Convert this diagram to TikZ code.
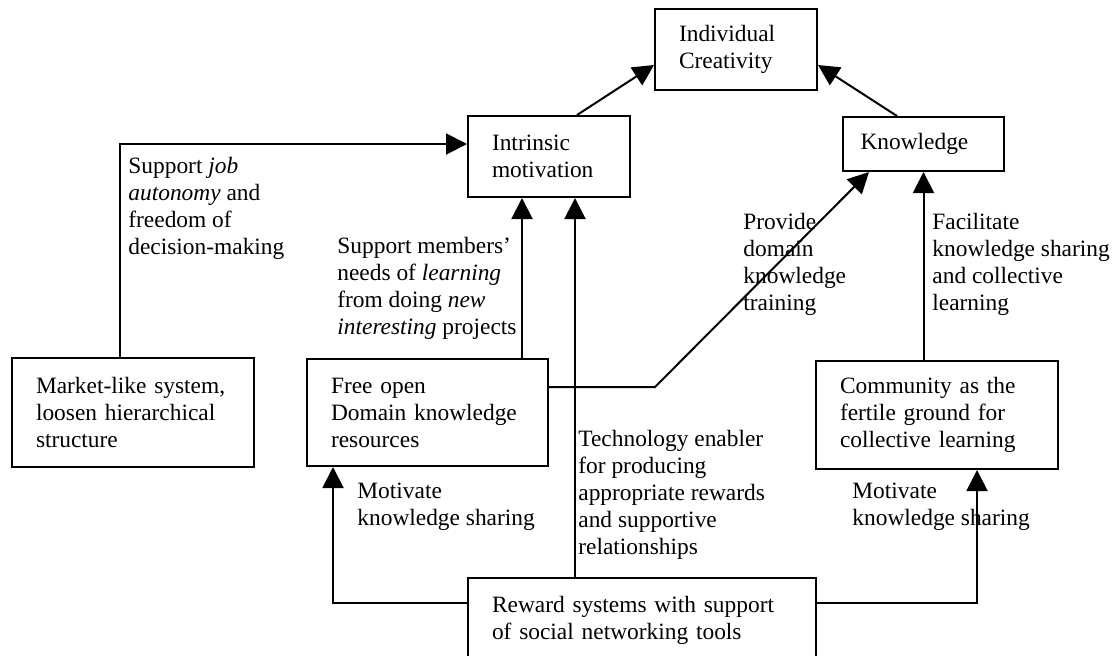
\documentclass[tikz,border=0pt]{standalone}
\usepackage{fontspec}
\setmainfont{Liberation Serif}
\usetikzlibrary{arrows.meta}

\begin{document}
\begin{tikzpicture}[
        x=0.5pt, y=-0.5pt,
        >={Triangle[length=10.5pt,width=10.5pt]},
        every node/.style={font=\fontsize{11.7}{13.5}\selectfont},
        box/.style={draw, line width=1pt, align=left, inner xsep=12pt, inner ysep=0pt},
        lbl/.style={anchor=north west, inner sep=0pt, align=left},
        arr/.style={->, line width=1pt}
    ]
        \clip (0,0) rectangle (1113,655);

        \node[box, text width=57pt, minimum height=40.5pt] (creat) at (736,49.5) {Individual\\Creativity};
        \node[box, text width=57pt, minimum height=40.5pt] (intr) at (549,156.5) {Intrinsic\\motivation};
        \node[box, text width=63pt, inner xsep=8.75pt, minimum height=27pt] (know) at (923.5,144) {Knowledge};
        \node[box, text width=97pt, minimum height=54.5pt] (market) at (133,412.5) {Market-like system,\\loosen hierarchical\\structure};
        \node[box, text width=96.5pt, minimum height=53.5pt] (free) at (427.5,412.5) {Free open\\Domain knowledge\\resources};
        \node[box, text width=97pt, minimum height=54pt] (comm) at (937,415) {Community as the\\fertile ground for\\collective learning};
        \node[box, text width=150pt, minimum height=42pt] (reward) at (642,620) {Reward systems with support\\of social networking tools};

        \node[lbl] (jobtxt) at (128,154.5) {\strut Support \textit{job}\\\textit{autonomy} and\\freedom of\\decision-making};
        \node[lbl] (learntxt) at (337,234.5) {\strut Support members'\\needs of \textit{learning}\\from doing \textit{new}\\\textit{interesting} projects};
        \node[lbl] (provtxt) at (743,210.5) {\strut Provide\\domain\\knowledge\\training};
        \node[lbl] (facitxt) at (932,210.5) {\strut Facilitate\\knowledge sharing\\and collective\\learning};
        \node[lbl] (techtxt) at (578,427.5) {\strut Technology enabler\\for producing\\appropriate rewards\\and supportive\\relationships};
        \node[lbl] (motltxt) at (357,479.5) {\strut Motivate\\knowledge sharing};
        \node[lbl] (motrtxt) at (852,479.5) {\strut Motivate\\knowledge sharing};

        \coordinate (bend) at (655,387);

        \draw[arr] ([xshift=14pt]intr.north) -- ([yshift=-7.75pt]creat.west);
        \draw[arr] ([xshift=-13.25pt]know.north) -- ([yshift=-7.75pt]creat.east);
        \draw[arr] ([xshift=-6.5pt]market.north) |- ([yshift=6.25pt]intr.west);
        \draw[arr] ([xshift=-13.5pt]intr.south |- free.north) -- ([xshift=-13.5pt]intr.south);
        \draw[arr] ([xshift=13pt]intr.south |- reward.north) -- ([xshift=13pt]intr.south);
        \draw[arr] ([yshift=12.75pt]free.east) -- (bend) -- ([xshift=-27.25pt]know.south);
        \draw[arr] (know.south |- comm.north) -- (know.south);
        \draw[arr] ([yshift=8.5pt]reward.west) -| ([xshift=-47.25pt]free.south);
        \draw[arr] ([yshift=8.5pt]reward.east) -| ([xshift=20pt]comm.south);
    \end{tikzpicture}
\end{document}
